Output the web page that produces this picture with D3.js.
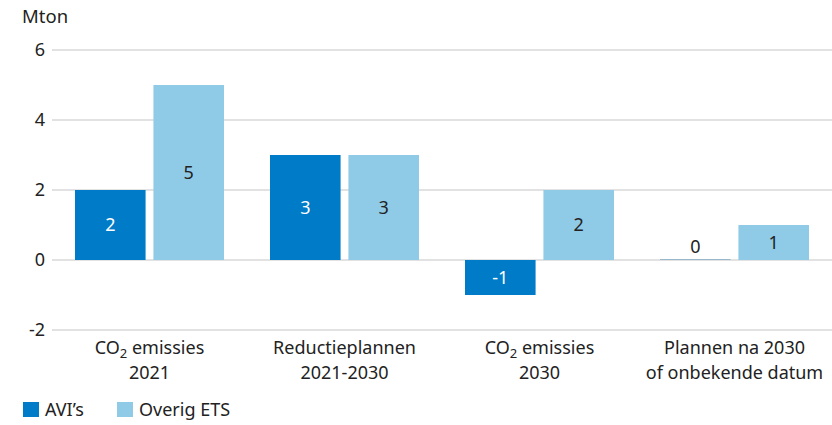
<!DOCTYPE html>
<html>
<head>
<meta charset="utf-8">
<script src="https://cdn.jsdelivr.net/npm/d3@7"></script>
<style>
  body { margin: 0; background: #fff; }
  svg text { font-family: "Noto Sans", "Open Sans", sans-serif; fill: #222; }
</style>
</head>
<body>
<svg width="832" height="425"></svg>
<script>
// categories, each split in lines; "CO2" gets a subscript
const categories = ["co2_2021", "plans", "co2_2030", "after"];
const categoryLines = [
  [["CO", "2", " emissies"], ["2021"]],
  [["Reductieplannen"], ["2021-2030"]],
  [["CO", "2", " emissies"], ["2030"]],
  [["Plannen na 2030"], ["of onbekende datum"]]
];
const series = ["AVI’s", "Overig ETS"];
const aviValues = [2, 3, -1, 0];
const etsValues = [5, 3, 2, 1];
const yTicks = [-2, 0, 2, 4, 6];

const colors = {"AVI’s": "#007bc7", "Overig ETS": "#8fcae7"};

const svg = d3.select("svg");
const margin = {top: 50, right: 0, bottom: 95, left: 52};
const width = 832, height = 425;

const x = d3.scaleBand()
    .domain(categories)
    .range([margin.left, width - margin.right]);

const xInner = d3.scaleBand()
    .domain(series)
    .range([23, 172])
    .paddingInner(0.1);

const y = d3.scaleLinear()
    .domain([-2, 6])
    .range([height - margin.bottom, margin.top]);

// gridlines
svg.append("g")
  .selectAll("line")
  .data(yTicks)
  .enter().append("line")
    .attr("x1", margin.left)
    .attr("x2", width)
    .attr("y1", d => y(d))
    .attr("y2", d => y(d))
    .style("stroke", "#d9d9d9")
    .style("stroke-width", 1.5);

// y axis
const yAxis = svg.append("g")
    .attr("transform", "translate(" + (margin.left - 7) + ",0)")
    .call(d3.axisLeft(y).tickValues(yTicks).tickSize(0).tickPadding(0)
      .tickFormat(d => String(d)));
yAxis.select(".domain").remove();
yAxis.selectAll("text")
    .style("font-size", "18px")
    .style("fill", "#222")
    .style("font-family", "'Noto Sans', sans-serif");

svg.append("text")
    .attr("x", 22)
    .attr("y", 23)
    .style("font-size", "18.5px")
    .text("Mton");

// bars
const rows = categories.map((c, i) => ({cat: c, vals: [
  {s: series[0], v: aviValues[i]},
  {s: series[1], v: etsValues[i]}
]}));

const groups = svg.append("g")
  .selectAll("g")
  .data(rows)
  .enter().append("g")
    .attr("transform", d => "translate(" + x(d.cat) + ",0)");

groups.selectAll("rect")
  .data(d => d.vals)
  .enter().append("rect")
    .attr("x", d => xInner(d.s))
    .attr("width", xInner.bandwidth())
    .attr("y", d => d.v === 0 ? y(0) - 1 : Math.min(y(d.v), y(0)))
    .attr("height", d => d.v === 0 ? 1 : Math.abs(y(d.v) - y(0)))
    .style("fill", d => d.v === 0 ? "#9ab8cc" : colors[d.s]);

groups.selectAll(".val")
  .data(d => d.vals)
  .enter().append("text")
    .attr("class", "val")
    .attr("x", d => xInner(d.s) + xInner.bandwidth() / 2)
    .attr("y", d => d.v === 0 ? y(0) - 13 : (y(d.v) + y(0)) / 2)
    .attr("dy", "0.36em")
    .attr("text-anchor", "middle")
    .style("font-size", "18px")
    .style("fill", d => (d.s === series[0] && d.v !== 0) ? "#fff" : "#222")
    .text(d => String(d.v));

// category labels
const labels = svg.append("g")
  .selectAll("text")
  .data(categoryLines)
  .enter().append("text")
    .attr("text-anchor", "middle")
    .attr("transform", (d, i) => "translate(" + (x(categories[i]) + x.bandwidth() / 2) + ",0)")
    .style("font-size", "18px");

labels.each(function(lines) {
  const t = d3.select(this);
  lines.forEach((parts, li) => {
    parts.forEach((p, pi) => {
      const ts = t.append("tspan").text(p);
      if (pi === 0) ts.attr("x", 0).attr("y", 354 + li * 25);
      if (p === "2" && parts.length > 1) {
        ts.attr("dy", 4).style("font-size", "13px");
      } else if (pi > 0 && parts[pi - 1] === "2") {
        ts.attr("dy", -4);
      }
    });
  });
});

// legend
const legendX = [23, 117];
const legend = svg.append("g")
  .selectAll("g")
  .data(series)
  .enter().append("g")
    .attr("transform", (d, i) => "translate(" + legendX[i] + ",402)");

legend.append("rect")
    .attr("width", 16)
    .attr("height", 15)
    .style("fill", d => colors[d]);

legend.append("text")
    .attr("x", 22)
    .attr("y", 14)
    .style("font-size", "18px")
    .text(d => d);
</script>
</body>
</html>
